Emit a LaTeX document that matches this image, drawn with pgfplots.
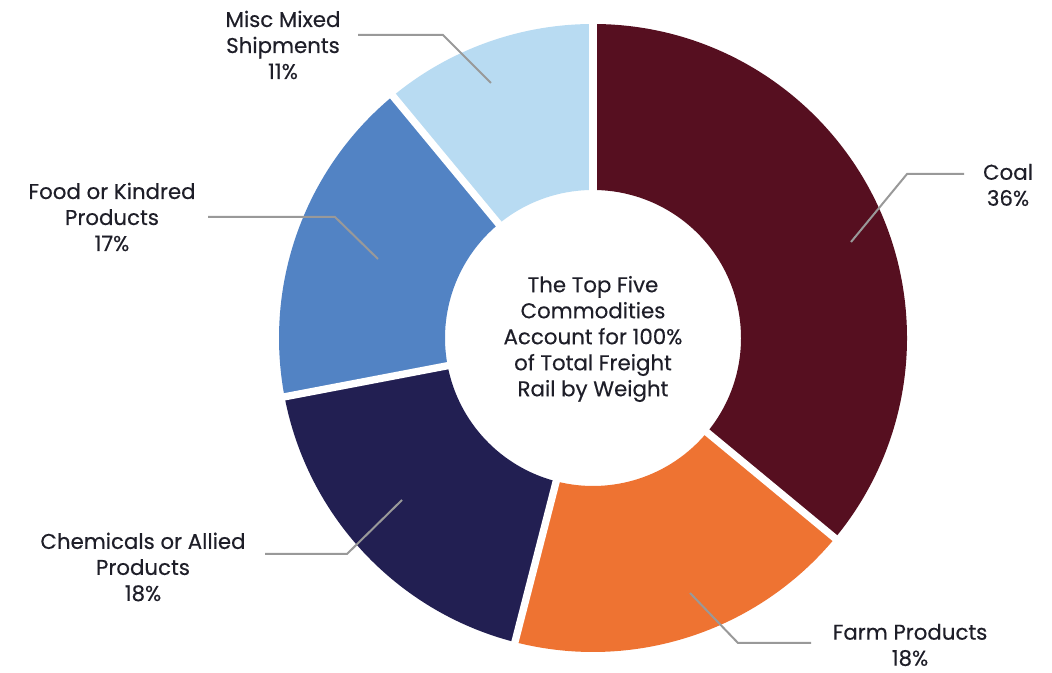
\documentclass[border=0pt]{standalone}
\usepackage{pgfplots}
\pgfplotsset{compat=1.18}
\usepackage{pgfplotstable}
\usepackage{fontspec}
\setmainfont{Poppins}[FakeBold=0.35]
\definecolor{coalc}{HTML}{560F20}
\definecolor{farmc}{HTML}{EE7332}
\definecolor{chemc}{HTML}{221F52}
\definecolor{foodc}{HTML}{5283C4}
\definecolor{miscc}{HTML}{B8DBF2}
\definecolor{txt}{HTML}{1E1E28}
\definecolor{lead}{HTML}{999999}
\pgfplotstableread{
value colour
36 coalc
18 farmc
18 chemc
17 foodc
11 miscc
}\donutdata
\newcommand\lbl{\fontsize{16}{19.5}\selectfont}
\begin{document}
\begin{tikzpicture}
\begin{axis}[x=0.75pt, y=0.75pt, xmin=-593, xmax=459, ymin=-335, ymax=338,
  hide axis, clip=false]
\def\angstart{90}
\pgfplotsforeachungrouped \i in {0,...,4}{%
  \pgfplotstablegetelem{\i}{value}\of\donutdata
  \pgfmathsetmacro\angend{\angstart-3.6*\pgfplotsretval}%
  \pgfplotstablegetelem{\i}{colour}\of\donutdata
  \let\col\pgfplotsretval
  \pgfmathsetmacro\xa{314*cos(\angstart)}%
  \pgfmathsetmacro\ya{314*sin(\angstart)}%
  \pgfmathsetmacro\xb{148*cos(\angend)}%
  \pgfmathsetmacro\yb{148*sin(\angend)}%
  \edef\cmd{\noexpand\fill[\col] (axis cs:\xa,\ya) arc[start angle=\angstart, end angle=\angend, radius=235.5pt] -- (axis cs:\xb,\yb) arc[start angle=\angend, end angle=\angstart, radius=111pt] -- cycle;}%
  \cmd
  \let\angstart\angend
}
\def\angstart{90}
\pgfplotsforeachungrouped \i in {0,...,4}{%
  \pgfplotstablegetelem{\i}{value}\of\donutdata
  \pgfmathsetmacro\angend{\angstart-3.6*\pgfplotsretval}%
  \pgfmathsetmacro\xa{140*cos(\angstart)}%
  \pgfmathsetmacro\ya{140*sin(\angstart)}%
  \pgfmathsetmacro\xb{325*cos(\angstart)}%
  \pgfmathsetmacro\yb{325*sin(\angstart)}%
  \edef\cmd{\noexpand\draw[white, line width=5.5pt] (axis cs:\xa,\ya) -- (axis cs:\xb,\yb);}%
  \cmd
  \let\angstart\angend
}
% leader lines
\draw[lead, line width=1.5pt] (axis cs:-235,303) -- (axis cs:-150,303) -- (axis cs:-102,255);
\draw[lead, line width=1.5pt] (axis cs:-385,121) -- (axis cs:-258,121) -- (axis cs:-215,79);
\draw[lead, line width=1.5pt] (axis cs:-328,-216) -- (axis cs:-246,-216) -- (axis cs:-191,-162);
\draw[lead, line width=1.5pt] (axis cs:97,-255) -- (axis cs:145,-305) -- (axis cs:218,-305);
\draw[lead, line width=1.5pt] (axis cs:258,96) -- (axis cs:314,164) -- (axis cs:371,164);
% labels
\node[align=center, font=\lbl, text=txt] at (axis cs:-310,293) {Misc Mixed\\Shipments\\11\%};
\node[align=center, font=\lbl, text=txt] at (axis cs:-481,121) {Food or Kindred\\Products\\17\%};
\node[align=center, font=\lbl, text=txt] at (axis cs:-450,-229) {Chemicals or Allied\\Products\\18\%};
\node[align=center, font=\lbl, text=txt, inner sep=1pt] at (axis cs:317,-307) {Farm Products\\18\%};
\node[align=center, font=\lbl, text=txt] at (axis cs:415,153) {Coal\\36\%};
\node[align=center, font=\lbl, text=txt] at (axis cs:0,-1) {The Top Five\\Commodities\\Account for 100\%\\of Total Freight\\Rail by Weight};
\end{axis}
\pgfresetboundingbox
\path (current axis.south west) rectangle (current axis.north east);
\end{tikzpicture}
\end{document}
